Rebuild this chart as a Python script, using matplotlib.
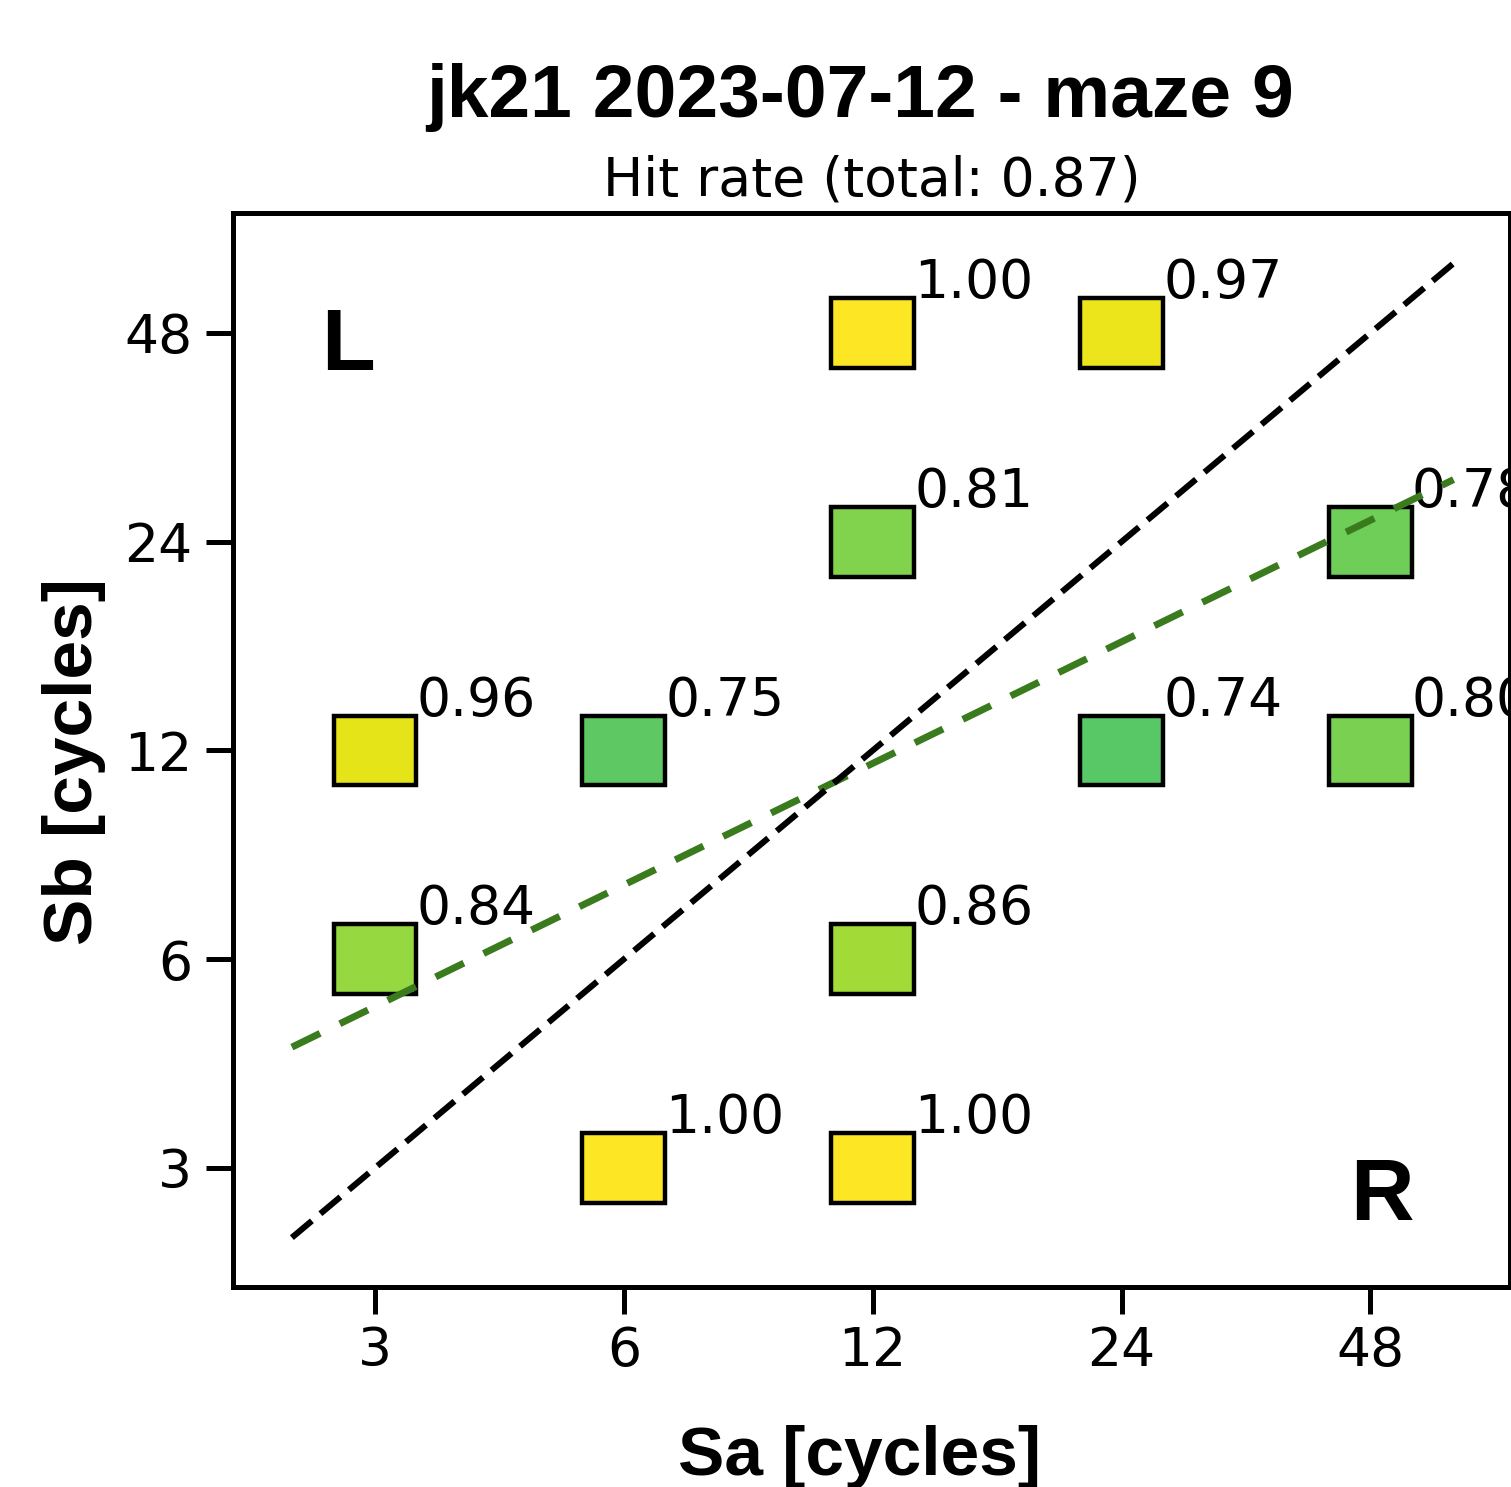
import matplotlib

matplotlib.use("Agg")
import matplotlib.pyplot as plt
import numpy as np
from matplotlib.patches import Rectangle
from matplotlib.ticker import FixedLocator, NullLocator

# hit rate per (Sa, Sb) cell
sa = [12, 24, 12, 48, 3, 6, 24, 48, 3, 12, 6, 12]
sb = [48, 48, 24, 24, 12, 12, 12, 12, 6, 6, 3, 3]
hit_rate = [1.00, 0.97, 0.81, 0.78, 0.96, 0.75, 0.74, 0.80, 0.84, 0.86, 1.00, 1.00]
ticks = [3, 6, 12, 24, 48]
total_hit = 0.87

# reference diagonal and fitted line
line_x = [2.38, 60.5]
fit_y = [4.48, 29.5]

title = "jk21 2023-07-12 - maze 9"

plt.rcParams["font.family"] = "DejaVu Sans"
plt.rcParams["lines.scale_dashes"] = False
bold = dict(family="Liberation Sans", fontweight="bold")
fs = 19.3

W, H = 1511, 1487
fig = plt.figure(figsize=(W / 200, H / 200), dpi=200)
ax = fig.add_axes([233 / W, 1 - 1287 / H, (1510 - 233) / W, (1287 - 213) / H])
ax.set_xscale("log", base=2)
ax.set_yscale("log", base=2)

cmap = plt.get_cmap("viridis")
half = 2 ** (1 / 6)
for x, y, v in zip(sa, sb, hit_rate):
    ax.add_patch(Rectangle((x / half, y / half), x * half - x / half, y * half - y / half,
                           facecolor=cmap(v), edgecolor="black", lw=1.6, zorder=3))
    ax.text(x * half, y * half, f"{v:.2f}", ha="left", va="baseline", fontsize=fs, zorder=4)

ax.plot(line_x, fit_y, color="#3a7b1e", lw=2.5, linestyle=(0, (11.3, 7.9)), zorder=5)
ax.plot(line_x, line_x, color="black", lw=2.2, linestyle=(0, (9.4, 4.0)), zorder=5)

ax.set_xlim(2.02, 70.8)
ax.set_ylim(2.02, 71.5)
for axis in (ax.xaxis, ax.yaxis):
    axis.set_major_locator(FixedLocator(ticks))
    axis.set_minor_locator(NullLocator())
ax.set_xticklabels([str(t) for t in ticks])
ax.set_yticklabels([str(t) for t in ticks])
ax.tick_params(axis="both", which="major", length=9.7, width=1.8, labelsize=fs)
ax.tick_params(axis="x", pad=4)
ax.tick_params(axis="y", pad=5)
for s in ax.spines.values():
    s.set_linewidth(1.8)

ax.text(0.09, 0.854, "L", transform=ax.transAxes, ha="center", va="baseline", fontsize=31.7, **bold)
ax.text(0.90, 0.0624, "R", transform=ax.transAxes, ha="center", va="baseline", fontsize=31.7, **bold)

ax.set_xlabel("Sa [cycles]", fontsize=25, va="baseline", **bold)
ax.xaxis.set_label_coords((860 - 233) / 1277, (1287 - 1475) / 1074)
ax.set_ylabel("Sb [cycles]", fontsize=25, va="baseline", **bold)
ax.yaxis.set_label_coords((92 - 233) / 1277, (1287 - 761.5) / 1074)

ax.text(0.5, 1 + 18 / 1074, f"Hit rate (total: {total_hit:.2f})", transform=ax.transAxes,
        ha="center", va="baseline", fontsize=fs)
fig.text(860 / W, 1 - 117 / H, title, ha="center", va="baseline", fontsize=27, **bold)

fig.savefig("out.png", dpi=200)
